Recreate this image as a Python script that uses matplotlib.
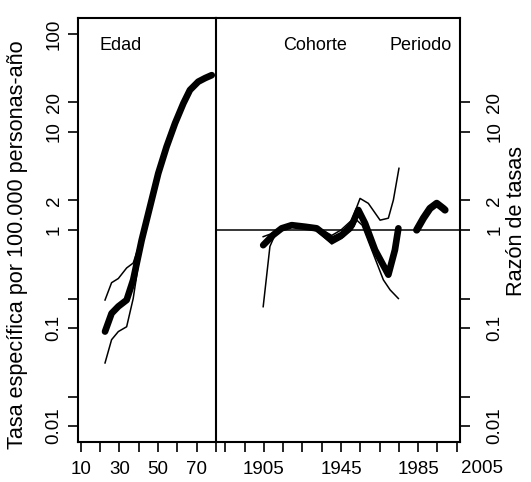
import matplotlib
matplotlib.use("Agg")
import matplotlib.pyplot as plt
from matplotlib.ticker import FixedLocator, FixedFormatter

plt.rcParams["font.family"] = ["Liberation Sans", "DejaVu Sans"]

# ----- data -----
# age effect (rate per 100,000 person-years)
age = [22.6, 26, 29.5, 33.8, 37.2, 41.6, 45.9, 50.2, 54.5, 58.9, 63.2, 66.6, 70.9, 74.5, 77.9]
age_rate = [0.092, 0.141, 0.166, 0.193, 0.31, 0.79, 1.73, 3.79, 7.08, 12.3, 19.6, 26.8, 32.6, 35.5, 38]
age_hi = [0.193, 0.29, 0.32, 0.41, 0.46, 0.84, 1.8, 3.9, 7.3, 12.6, 20.1, 27.5, 33.4, 36.4, 39]
age_lo = [0.044, 0.076, 0.092, 0.103, 0.2, 0.74, 1.66, 3.68, 6.87, 12.0, 19.1, 26.1, 31.8, 34.6, 37]

# cohort effect (rate ratio)
cohort = [1904.6, 1909.8, 1914.2, 1919.4, 1926.3, 1932.4, 1940.2, 1945.4, 1950.6, 1954.0,
          1957.5, 1962.7, 1969.6, 1973.0, 1974.8]
cohort_rr = [0.70, 0.89, 1.04, 1.12, 1.08, 1.04, 0.79, 0.89, 1.12, 1.6,
             1.17, 0.625, 0.35, 0.625, 1.04]
cohort_hi_yr = [1904.6, 1909.8, 1914.2, 1919.4, 1926.3, 1932.4, 1940.2, 1945.0, 1950.6, 1954.9,
                1959.2, 1965.3, 1969.6, 1972.2, 1975.1]
cohort_hi = [0.855, 0.93, 1.08, 1.16, 1.12, 1.08, 0.88, 1.0, 1.26, 2.1,
             1.87, 1.26, 1.32, 2.02, 4.26]
cohort_lo_yr = [1904.6, 1908.1, 1910.7, 1914.2, 1919.4, 1926.3, 1932.4, 1940.2, 1945.4, 1950.6,
                1953.2, 1956.0, 1961.0, 1967.0, 1970.5, 1974.8]
cohort_lo = [0.165, 0.68, 0.89, 1.0, 1.07, 1.04, 0.98, 0.72, 0.82, 1.0,
             1.26, 1.12, 0.625, 0.31, 0.245, 0.2]

# period effect (rate ratio)
period = [1984.3, 1987.8, 1991.2, 1994.7, 1998.1, 1999.0]
period_rr = [1.0, 1.32, 1.66, 1.87, 1.66, 1.6]

ylo, yhi = 10 ** -2.163, 10 ** 2.163

fig = plt.figure(figsize=(5.31, 4.82), dpi=100)
W, H = 531, 482
ax1 = fig.add_axes([78 / W, 40 / H, 138 / W, 424 / H])
ax2 = fig.add_axes([216 / W, 40 / H, 244 / W, 424 / H])
ax1.patch.set_visible(False)
ax2.patch.set_visible(False)

# ----- age panel -----
ax1.plot(age, age_hi, color="black", lw=1.1)
ax1.plot(age, age_lo, color="black", lw=1.1)
ax1.plot(age, age_rate, color="black", lw=4.8, solid_capstyle="round")
ax1.set_yscale("log")
ax1.set_ylim(ylo, yhi)
ax1.set_xlim(8.6, 80.1)

ax1.xaxis.set_major_locator(FixedLocator([10, 20, 30, 40, 50, 60, 70, 80]))
ax1.xaxis.set_major_formatter(FixedFormatter(["10", "", "30", "", "50", "", "70", ""]))
ax1.yaxis.set_major_locator(FixedLocator([0.01, 0.02, 0.1, 0.2, 1, 2, 10, 20, 100]))
ax1.yaxis.set_major_formatter(FixedFormatter(["0.01", "", "0.1", "", "1", "2", "10", "20", "100"]))
ax1.yaxis.set_minor_locator(FixedLocator([]))
ax1.text(0.159, 0.955, "Edad", transform=ax1.transAxes, fontsize=13, va="top", ha="left")

# ----- cohort / period panel -----
ax2.axhline(1, color="black", lw=1.1)
ax2.plot(cohort_hi_yr, cohort_hi, color="black", lw=1.1)
ax2.plot(cohort_lo_yr, cohort_lo, color="black", lw=1.1)
ax2.plot(cohort, cohort_rr, color="black", lw=4.8, solid_capstyle="round")
ax2.plot(period, period_rr, color="black", lw=5.2, solid_capstyle="round")
ax2.set_yscale("log")
ax2.set_ylim(ylo, yhi)
ax2.set_xlim(1880.1, 2006.8)

ax2.xaxis.set_major_locator(FixedLocator(list(range(1885, 2006, 10))))
xlabs = ["" for _ in range(1885, 2006, 10)]
for yr in (1905, 1945, 1985):
    xlabs[(yr - 1885) // 10] = str(yr)
ax2.xaxis.set_major_formatter(FixedFormatter(xlabs))
ax2.annotate("2005", xy=(2005, 0), xycoords=("data", "axes fraction"),
             xytext=(18, -13.2), textcoords="offset points",
             ha="center", va="top", fontsize=13.5)
ax2.yaxis.tick_right()
ax2.yaxis.set_major_locator(FixedLocator([0.01, 0.02, 0.1, 0.2, 1, 2, 10, 20]))
ax2.yaxis.set_major_formatter(FixedFormatter(["0.01", "", "0.1", "", "1", "2", "10", "20"]))
ax2.yaxis.set_minor_locator(FixedLocator([]))
ax2.spines["left"].set_visible(False)
ax2.text(0.275, 0.955, "Cohorte", transform=ax2.transAxes, fontsize=13, va="top", ha="left")
ax2.text(0.967, 0.955, "Periodo", transform=ax2.transAxes, fontsize=13, va="top", ha="right")

for ax in (ax1, ax2):
    for s in ax.spines.values():
        s.set_linewidth(1.5)
    ax.tick_params(which="both", direction="out", length=7, width=1.2, labelsize=13.5)
    ax.tick_params(axis="x", pad=7)
ax1.tick_params(axis="y", labelrotation=90, pad=4)
ax2.tick_params(axis="y", labelrotation=90, pad=12)
for ax in (ax1, ax2):
    for lab in ax.get_yticklabels():
        lab.set_va("center")

fig.text(18 / W, (H - 245) / H, "Tasa específica por 100.000 personas-año",
         rotation=90, ha="center", va="center", fontsize=15.6)
fig.text(517 / W, (H - 221) / H, "Razón de tasas",
         rotation=90, ha="center", va="center", fontsize=15.6)

fig.savefig("out.png", dpi=100)
